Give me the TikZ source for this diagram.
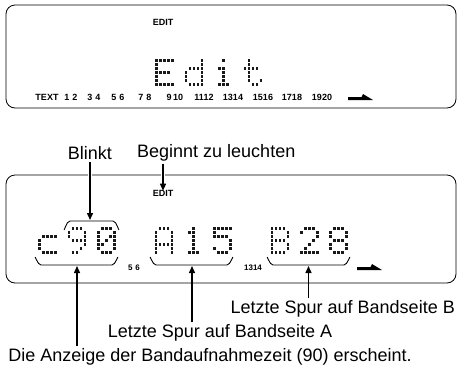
\documentclass[tikz,border=0pt]{standalone}
\usepackage{fontspec}
\setmainfont{Liberation Sans}
\usetikzlibrary{arrows.meta}
\tikzset{
  lcdbox/.style={draw, line width=0.8pt, rounded corners=9pt},
  lbl/.style={font=\fontsize{18}{20}\selectfont, inner sep=0pt},
  seg/.style={font=\bfseries\fontsize{9}{10}\selectfont, inner sep=0pt},
  segs/.style={font=\bfseries\fontsize{8}{9}\selectfont, inner sep=0pt},
  callout/.style={line width=1.4pt, -{Triangle[length=7pt,width=6pt]}},
  halo/.style={draw=white, line width=4pt},
  brk/.style={line width=0.9pt},
  lcddot/.style={fill=black!90},
  tapesym/.style={fill=black},
}
\newcommand\lcdglyph[3]{%
  \foreach \rowbits [count=\rr from 0] in #3 {%
    \foreach \bb [count=\cc from 0] in \rowbits {%
      \ifnum\bb=1 \fill[lcddot] ({#1+\cc*4.0},{#2+\rr*4.0}) rectangle ++(2.8,2.8);\fi
    }%
  }%
}
\def\glE{{1,1,1,1,1},{1,0,0,0,0},{1,0,0,0,0},{1,1,1,1,0},{1,0,0,0,0},{1,0,0,0,0},{1,1,1,1,1}}
\def\gld{{0,0,0,0,1},{0,0,0,0,1},{0,1,1,1,1},{1,0,0,0,1},{1,0,0,0,1},{1,0,0,0,1},{0,1,1,1,1}}
\def\gli{{0,0,1,0,0},{0,0,0,0,0},{0,1,1,0,0},{0,0,1,0,0},{0,0,1,0,0},{0,0,1,0,0},{0,1,1,1,0}}
\def\glt{{0,1,0,0,0},{0,1,0,0,0},{1,1,1,1,0},{0,1,0,0,0},{0,1,0,0,0},{0,1,0,0,1},{0,0,1,1,0}}
\def\glc{{0,0,0,0,0},{0,0,0,0,0},{0,1,1,1,1},{1,0,0,0,0},{1,0,0,0,0},{1,0,0,0,0},{0,1,1,1,1}}
\def\glnine{{0,1,1,1,0},{1,0,0,0,1},{1,0,0,0,1},{0,1,1,1,1},{0,0,0,0,1},{0,0,0,1,0},{0,1,1,0,0}}
\def\glzero{{0,1,1,1,0},{1,0,0,0,1},{1,0,0,1,1},{1,0,1,0,1},{1,1,0,0,1},{1,0,0,0,1},{0,1,1,1,0}}
\def\glA{{0,1,1,1,0},{1,0,0,0,1},{1,0,0,0,1},{1,0,0,0,1},{1,1,1,1,1},{1,0,0,0,1},{1,0,0,0,1}}
\def\glone{{0,0,1,0,0},{0,1,1,0,0},{0,0,1,0,0},{0,0,1,0,0},{0,0,1,0,0},{0,0,1,0,0},{0,1,1,1,0}}
\def\glfive{{1,1,1,1,1},{1,0,0,0,0},{1,1,1,1,0},{0,0,0,0,1},{0,0,0,0,1},{1,0,0,0,1},{0,1,1,1,0}}
\def\glB{{1,1,1,1,0},{1,0,0,0,1},{1,0,0,0,1},{1,1,1,1,0},{1,0,0,0,1},{1,0,0,0,1},{1,1,1,1,0}}
\def\gltwo{{0,1,1,1,0},{1,0,0,0,1},{0,0,0,0,1},{0,0,0,1,0},{0,0,1,0,0},{0,1,0,0,0},{1,1,1,1,1}}
\def\gleight{{0,1,1,1,0},{1,0,0,0,1},{1,0,0,0,1},{0,1,1,1,0},{1,0,0,0,1},{1,0,0,0,1},{0,1,1,1,0}}
\newcommand\tapearrow[2]{%
  \fill[tapesym] (#1,#2) -- ++(25,0) -- ++(-10,-6) -- ++(-1.5,3) -- ++(-13.5,0) -- cycle;}
\begin{document}
\begin{tikzpicture}[x=1pt,y=-1pt]
\useasboundingbox (0,0) rectangle (458,373);
% ---------- top display ----------
\draw[lcdbox] (6,5) rectangle (456,108);
\node[seg] (edit1) at (163,22) {EDIT};
\lcdglyph{155}{59}{\glE}
\lcdglyph{184.5}{59}{\gld}
\lcdglyph{214}{59}{\gli}
\lcdglyph{243.5}{59}{\glt}
\node[seg] (n0) at (47,97) {TEXT};
\node[seg] (n1) at (71,97) {1\,\,2};
\node[seg] (n2) at (94,97) {3\,\,4};
\node[seg] (n3) at (118,97) {5\,\,6};
\node[seg] (n4) at (145,97) {7\,\,8};
\node[seg] (n5) at (175,97) {9\,10};
\node[seg] (n6) at (204,97) {1112};
\node[seg] (n7) at (233,97) {1314};
\node[seg] (n8) at (263,97) {1516};
\node[seg] (n9) at (292,97) {1718};
\node[seg] (n10) at (322,97) {1920};
\tapearrow{348}{100}
% ---------- labels above ----------
\node[lbl] (blinkt) at (90,153) {Blinkt};
\node[lbl, anchor=west] (begin) at (137,153) {Beginnt zu leuchten};
% ---------- second display ----------
\draw[lcdbox] (6,175) rectangle (456,283);
\node[seg] (edit2) at (163,193) {EDIT};
\lcdglyph{38.3}{227}{\glc}
\lcdglyph{67.5}{227}{\glnine}
\lcdglyph{96.7}{227}{\glzero}
\lcdglyph{154.5}{227}{\glA}
\lcdglyph{183.7}{227}{\glone}
\lcdglyph{212.9}{227}{\glfive}
\lcdglyph{270.5}{227}{\glB}
\lcdglyph{299.7}{227}{\gltwo}
\lcdglyph{328.9}{227}{\gleight}
\node[segs] (m1) at (134,268) {5\,\,6};
\node[segs] (m2) at (253,268) {1314};
\tapearrow{357}{270}
% brackets
\draw[brk] (64,229) to[out=-90,in=180] (70,221) -- (113,221) to[out=0,in=-90] (119,229);
\coordinate (top90) at (90,220);
\draw[brk] (35,258) to[out=90,in=180] (41,265) -- (112,265) to[out=0,in=90] (118,258);
\draw[brk] (150,258) to[out=90,in=180] (156,265) -- (227,265) to[out=0,in=90] (233,258);
\draw[brk] (267,258) to[out=90,in=180] (273,265) -- (344,265) to[out=0,in=90] (350,258);
\coordinate (brC) at (77,266);
\coordinate (brA) at (192,266);
\coordinate (brB) at (308.5,266);
% ---------- labels below ----------
\node[lbl, anchor=east] (txtB) at (455,309) {Letzte Spur auf Bandseite B};
\node[lbl] (txtA) at (220,333) {Letzte Spur auf Bandseite A};
\node[lbl] (txtD) at (210,357) {Die Anzeige der Bandaufnahmezeit (90) erscheint.};
% ---------- connectors ----------
\draw[halo] (90,172) -- (90,178);
\draw[halo] (163,172) -- (163,178);
\draw[callout] ([yshift=-2pt]blinkt.south) -- (top90);
\draw[callout] ([yshift=-2pt]begin.south -| edit2.north) -- ([yshift=-1pt]edit2.north);
\draw[callout] ([yshift=2pt]txtB.north -| brB) -- (brB);
\draw[callout] ([yshift=2pt]txtA.north -| brA) -- (brA);
\draw[callout] ([yshift=2pt]txtD.north -| brC) -- (brC);
\end{tikzpicture}
\end{document}
